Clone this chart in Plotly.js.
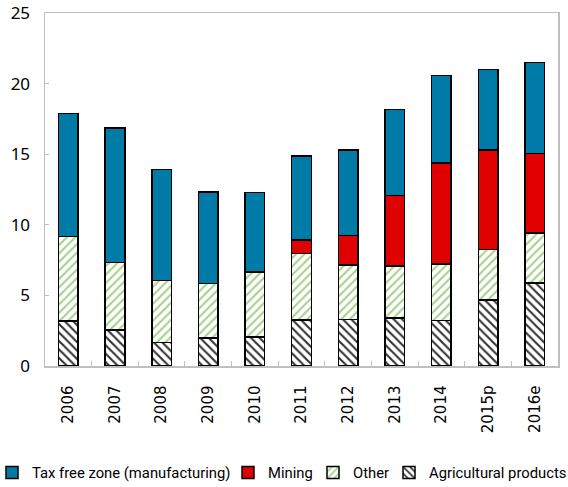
<!DOCTYPE html>
<html>
<head>
<meta charset="utf-8">
<script src="https://cdn.plot.ly/plotly-3.0.1.min.js"></script>
<style>html,body{margin:0;padding:0;background:#fff;}#chart{width:568px;height:487px;}</style>
</head>
<body>
<div id="chart"></div>
<script>
const years = ["2006","2007","2008","2009","2010","2011","2012","2013","2014","2015p","2016e"];
const agricultural = [3.19, 2.55, 1.65, 1.98, 2.05, 3.26, 3.28, 3.40, 3.21, 4.67, 5.88];
const other = [5.99, 4.79, 4.42, 3.88, 4.60, 4.72, 3.89, 3.70, 4.01, 3.57, 3.54];
const mining = [0, 0, 0, 0, 0, 0.94, 2.06, 4.99, 7.14, 7.06, 5.64];
const taxFree = [8.69, 9.52, 7.86, 6.46, 5.64, 5.95, 6.07, 6.06, 6.23, 5.71, 6.42];
const yTicks = [0, 5, 10, 15, 20, 25];

const line = {color: '#000', width: 1.5};
const traces = [
  {type:'bar', name:'Agricultural products', x:years, y:agricultural, legend:'legend4',
   marker:{color:'#ffffff', line:line, pattern:{shape:'\\', fgcolor:'#333333', bgcolor:'#ffffff', size:6, solidity:0.35}}},
  {type:'bar', name:'Other', x:years, y:other, legend:'legend3',
   marker:{color:'#ffffff', line:line, pattern:{shape:'/', fgcolor:'#a8d08d', bgcolor:'#ffffff', size:6, solidity:0.35}}},
  {type:'bar', name:'Mining', x:years, y:mining, legend:'legend2',
   marker:{color:'#e00000', line:line}},
  {type:'bar', name:'Tax free zone (manufacturing)', x:years, y:taxFree, legend:'legend',
   marker:{color:'#007aa6', line:line}}
];

const legFont = {family:'Roboto, sans-serif', size:14.8, color:'#000'};
function leg(px, ind){ return {orientation:'h', xref:'container', x:px/568, xanchor:'left', yref:'container', y:(487-473)/487, yanchor:'middle', font:legFont, bgcolor:'rgba(0,0,0,0)', indentation:ind||0}; }

const layout = {
  width:568, height:487,
  margin:{l:45, r:10, t:13, b:121},
  barmode:'stack', bargap:0.58,
  paper_bgcolor:'#fff', plot_bgcolor:'#fff',
  font:{family:'Noto Sans, sans-serif', color:'#000'},
  showlegend:true,
  legend:leg(0, -8), legend2:leg(228), legend3:leg(313), legend4:leg(389),
  xaxis:{type:'category', tickangle:-90, tickfont:{family:'DejaVu Sans, sans-serif', size:15}, automargin:false,
         showline:true, linecolor:'#bfbfbf', linewidth:1.5, mirror:true, ticklabelstandoff:12,
         ticks:'inside', ticklen:5, tickcolor:'#bfbfbf', tickson:'boundaries', showgrid:false},
  yaxis:{range:[0,25], tickvals:yTicks, ticktext:yTicks.map(String), tickfont:{family:'Noto Sans, sans-serif', size:17}, automargin:false,
         showline:true, linecolor:'#bfbfbf', linewidth:1.5, mirror:true,
         ticks:'inside', ticklen:4, tickcolor:'#bfbfbf', showgrid:false, zeroline:false, ticklabelstandoff:10},
  annotations:[{text:'(Percent of GDP)', xref:'paper', yref:'paper', x:-0.01, y:1, xanchor:'left', yanchor:'bottom',
                yshift:10, showarrow:false, font:{family:'Noto Sans, sans-serif', size:16, color:'#00b0f0'}}]
};

Plotly.newPlot('chart', traces, layout, {displayModeBar:false, staticPlot:true});
</script>
</body>
</html>
